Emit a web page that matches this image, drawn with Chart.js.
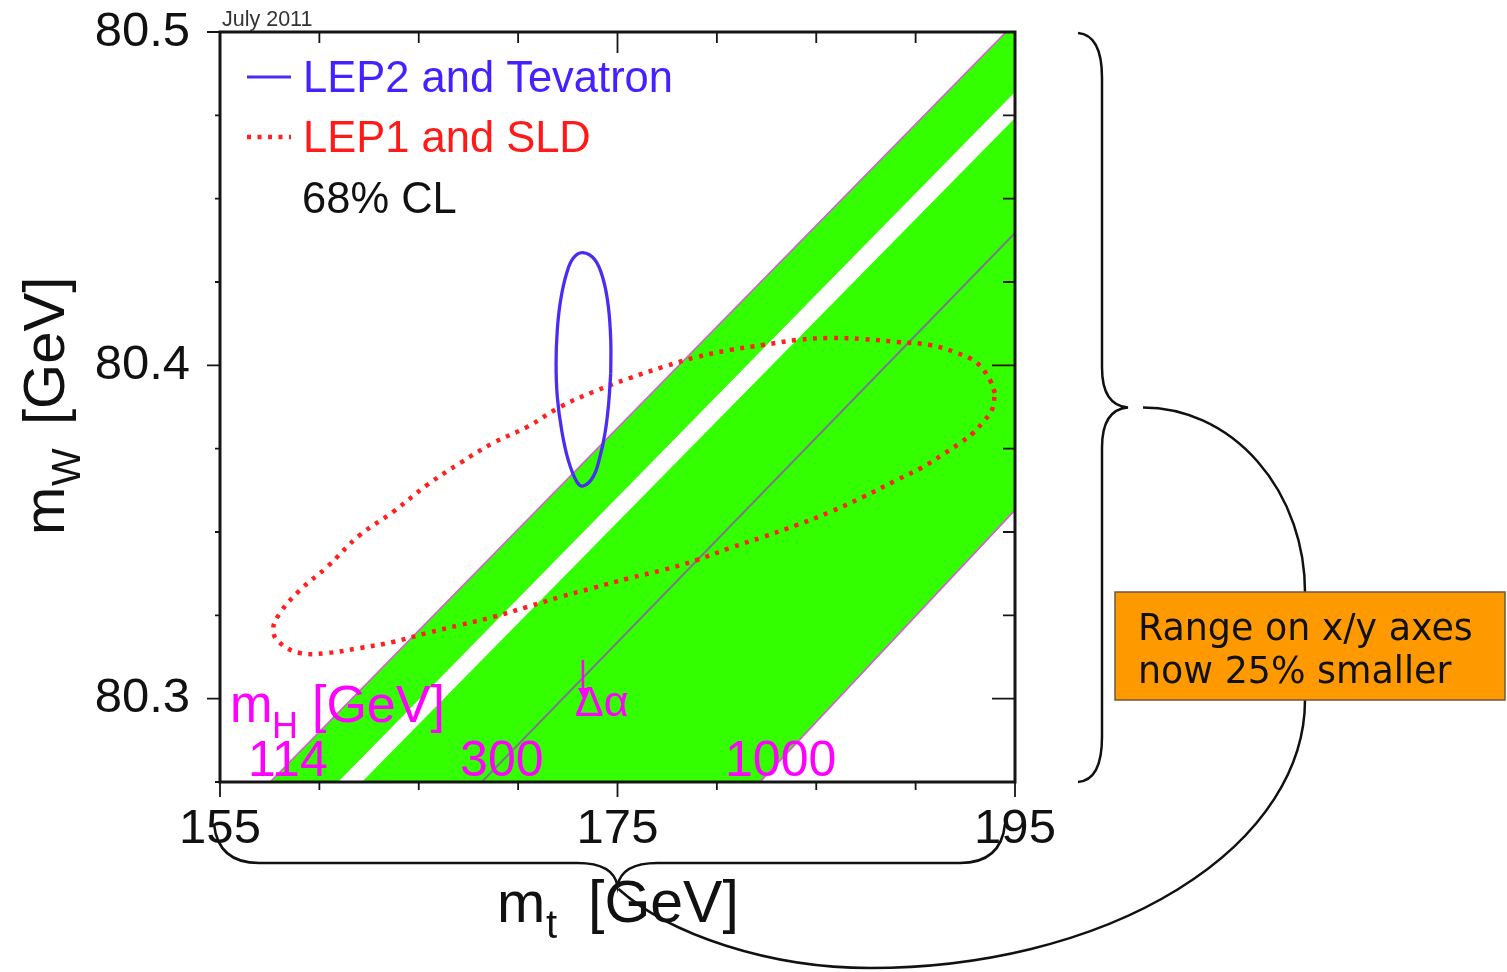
<!DOCTYPE html>
<html>
<head>
<meta charset="utf-8">
<script src="https://cdn.jsdelivr.net/npm/chart.js@4.4.1/dist/chart.umd.min.js"></script>
<style>
  html, body { margin: 0; padding: 0; background: #ffffff; }
  #wrap { width: 1507px; height: 972px; position: relative; }
</style>
</head>
<body>
<div id="wrap"><canvas id="c"></canvas></div>
<script>
// ---- axis ranges and ticks ----
const xRange = [155, 195];
const yRange = [80.275, 80.5];
const xTicks = [155, 160, 165, 170, 175, 180, 185, 190, 195];
const xTickLabels = [155, 175, 195];
const yTicks = [80.275, 80.3, 80.325, 80.35, 80.375, 80.4, 80.425, 80.45, 80.475, 80.5];
const yTickLabels = [80.3, 80.4, 80.5];

// ---- SM prediction band (mH from 114 to 1000 GeV) ----
const bandMt = [157.52, 194.55, 195.0, 195.0, 182.17];
const bandMw = [80.275, 80.5, 80.5, 80.3566, 80.275];

// ---- excluded mH strip inside the band ----
const stripMt = [160.94, 195.0, 195.0, 162.14];
const stripMw = [80.275, 80.482, 80.4742, 80.275];

// ---- band edges ----
const upperEdgeMt = [157.52, 194.55];
const upperEdgeMw = [80.275, 80.5];
const lowerEdgeMt = [182.17, 195.0];
const lowerEdgeMw = [80.275, 80.3566];

// ---- delta-alpha reference line ----
const alphaMt = [168.17, 195.0];
const alphaMw = [80.275, 80.4397];

// ---- LEP2 and Tevatron 68% CL contour ----
const lep2Mt = [174.66, 174.54, 174.37, 174.12, 173.78, 173.28, 172.95, 172.52, 172.19, 171.97, 171.91,
                171.97, 172.14, 172.44, 172.77, 173.25, 173.87, 174.29, 174.54, 174.66, 174.66];
const lep2Mw = [80.3976, 80.3876, 80.3796, 80.3726, 80.3666, 80.3638, 80.3651, 80.3716, 80.3806, 80.3906, 80.4006,
                80.4106, 80.4196, 80.4276, 80.4321, 80.4338, 80.4316, 80.4256, 80.4176, 80.4076, 80.3976];

// ---- LEP1 and SLD 68% CL contour ----
const lep1Mt = [193.99, 193.74, 193.09, 192.08, 190.72, 189.06, 187.35, 185.69, 184.03, 182.32, 180.66, 179.00,
                177.29, 175.63, 173.77, 172.11, 170.45, 168.74, 167.08, 165.42, 163.70, 162.04, 160.38, 159.03,
                158.02, 157.67, 158.02, 159.03, 160.38, 162.04, 163.70, 165.42, 167.08, 168.74, 170.45, 172.11,
                173.77, 175.63, 177.29, 179.00, 180.66, 182.32, 184.03, 185.69, 187.35, 189.06, 190.37, 191.33,
                192.23, 192.89, 193.39, 193.84, 193.99];
const lep1Mw = [80.3917, 80.3956, 80.4007, 80.4037, 80.4061, 80.4070, 80.4079, 80.4082, 80.4076, 80.4061, 80.4046, 80.4025,
                80.3995, 80.3962, 80.3920, 80.3875, 80.3815, 80.3767, 80.3707, 80.3641, 80.3560, 80.3491, 80.3395, 80.3326,
                80.3257, 80.3206, 80.3167, 80.3137, 80.3137, 80.3152, 80.3170, 80.3197, 80.3221, 80.3245, 80.3275, 80.3305,
                80.3332, 80.3362, 80.3386, 80.3416, 80.3452, 80.3485, 80.3521, 80.3560, 80.3605, 80.3656, 80.3695, 80.3731,
                80.3767, 80.3797, 80.3830, 80.3866, 80.3917];

// ---- mH labels along the bottom of the band ----
const mhLabels = ['114', '300', '1000'];
const mhLabelMt = [156.41, 167.08, 180.41];

const pts = (xs, ys) => xs.map((v, i) => ({ x: v, y: ys[i] }));
const isIn = (list, v) => list.some(t => Math.abs(t - v) < 1e-6);

const SANS = '"Liberation Sans", Arial, Helvetica, sans-serif';
const GREEN = '#33ff00';
const MAGENTA = '#ff00ff';
const BLUE = '#4a2cf2';
const RED = '#ff2020';
const INK = '#151515';

// frame with ticks on all four sides
const framePlugin = {
  id: 'frame',
  afterDatasetsDraw(chart) {
    const { ctx, chartArea: a, scales: { x, y } } = chart;
    ctx.save();
    ctx.strokeStyle = INK;
    ctx.lineWidth = 1.8;
    ctx.beginPath();
    xTicks.forEach(v => {
      const px = x.getPixelForValue(v);
      const major = isIn(xTickLabels, v);
      ctx.moveTo(px, a.bottom); ctx.lineTo(px, a.bottom + (major ? 15 : 8));
      ctx.moveTo(px, a.top); ctx.lineTo(px, a.top + (major ? 21 : 11));
    });
    yTicks.forEach(v => {
      const py = y.getPixelForValue(v);
      const major = isIn(yTickLabels, v);
      ctx.moveTo(a.left, py); ctx.lineTo(a.left - (major ? 13 : 5), py);
      ctx.moveTo(a.right, py); ctx.lineTo(a.right - (major ? 23 : 12), py);
    });
    ctx.stroke();
    ctx.lineWidth = 3;
    ctx.strokeRect(a.left, a.top, a.right - a.left, a.bottom - a.top);
    ctx.restore();
  }
};

// titles, legend, labels and the explanatory braces
const decorPlugin = {
  id: 'decor',
  afterDraw(chart) {
    const { ctx, chartArea: a, scales: { x, y } } = chart;
    ctx.save();
    ctx.textAlign = 'left';
    ctx.textBaseline = 'alphabetic';

    // date stamp
    ctx.fillStyle = '#333';
    ctx.font = '21.5px ' + SANS;
    ctx.fillText('July 2011', a.left + 2, a.top - 6);

    // legend
    ctx.lineWidth = 3;
    ctx.strokeStyle = BLUE;
    ctx.beginPath(); ctx.moveTo(a.left + 27, 77); ctx.lineTo(a.left + 71, 77); ctx.stroke();
    ctx.strokeStyle = RED;
    ctx.lineWidth = 4.5;
    ctx.setLineDash([4, 6.5]);
    ctx.beginPath(); ctx.moveTo(a.left + 27, 137); ctx.lineTo(a.left + 71, 137); ctx.stroke();
    ctx.setLineDash([]);
    ctx.font = '43.5px ' + SANS;
    ctx.fillStyle = '#4422ff';
    ctx.fillText('LEP2 and Tevatron', a.left + 83, 92);
    ctx.fillStyle = '#ff1a1a';
    ctx.fillText('LEP1 and SLD', a.left + 83, 152);
    ctx.fillStyle = '#111';
    ctx.fillText('68% CL', a.left + 82, 213);

    // mH annotation
    ctx.fillStyle = MAGENTA;
    const mhX = x.getPixelForValue(155.5), mhY = y.getPixelForValue(80.293);
    ctx.font = '51px ' + SANS;
    ctx.fillText('m', mhX, mhY);
    ctx.font = '36px ' + SANS;
    ctx.fillText('H', mhX + 42, mhY + 16);
    ctx.font = '52px ' + SANS;
    ctx.fillText('[GeV]', mhX + 82, mhY);
    ctx.font = '50px ' + SANS;
    const labY = y.getPixelForValue(80.2768);
    mhLabels.forEach((t, i) => ctx.fillText(t, x.getPixelForValue(mhLabelMt[i]), labY));

    // delta-alpha arrow
    const ax = x.getPixelForValue(173.26);
    const ay0 = y.getPixelForValue(80.3116), ay1 = y.getPixelForValue(80.2996);
    ctx.strokeStyle = MAGENTA;
    ctx.lineWidth = 2.5;
    ctx.beginPath(); ctx.moveTo(ax, ay0); ctx.lineTo(ax, ay1 - 8); ctx.stroke();
    ctx.beginPath(); ctx.moveTo(ax - 5, ay1 - 12); ctx.lineTo(ax + 5, ay1 - 12); ctx.lineTo(ax + 1, ay1); ctx.closePath(); ctx.fill();
    ctx.font = '43px ' + SANS;
    ctx.fillText('\u0394\u03b1', x.getPixelForValue(172.86), y.getPixelForValue(80.2948));

    // axis titles
    ctx.fillStyle = '#111';
    ctx.font = '58px ' + SANS;
    const tx = 497, tyb = 922;
    ctx.fillText('m', tx, tyb);
    ctx.font = '40px ' + SANS;
    ctx.fillText('t', tx + 49, tyb + 16);
    ctx.font = '59px ' + SANS;
    ctx.fillText('[GeV]', tx + 91, tyb);

    ctx.save();
    ctx.translate(64, 535);
    ctx.rotate(-Math.PI / 2);
    ctx.font = '58px ' + SANS;
    ctx.fillText('m', 0, 0);
    ctx.font = '40px ' + SANS;
    ctx.fillText('W', 49, 16);
    ctx.font = '58px ' + SANS;
    ctx.fillText('[GeV]', 110, 0);
    ctx.restore();

    // right brace spanning the y range
    ctx.strokeStyle = '#111';
    ctx.lineWidth = 2.5;
    const bx = a.right + 63, mx = a.right + 87, tipX = a.right + 113;
    const top = a.top + 1, bot = a.bottom, mid = (top + bot) / 2;
    ctx.beginPath();
    ctx.moveTo(bx, top);
    ctx.quadraticCurveTo(mx, top + 2, mx, top + 45);
    ctx.lineTo(mx, mid - 40);
    ctx.quadraticCurveTo(mx, mid - 2, tipX, mid);
    ctx.quadraticCurveTo(mx, mid + 2, mx, mid + 40);
    ctx.lineTo(mx, bot - 45);
    ctx.quadraticCurveTo(mx, bot - 2, bx, bot);
    ctx.stroke();

    // bottom brace spanning the x range
    const L = x.getPixelForValue(155) - 6, R = x.getPixelForValue(195) - 10;
    const C = (x.getPixelForValue(155) + x.getPixelForValue(195)) / 2;
    const yEnd = 824, yh = 863, yTip = 886;
    ctx.beginPath();
    ctx.moveTo(L, yEnd);
    ctx.quadraticCurveTo(L + 4, yh, L + 45, yh);
    ctx.lineTo(C - 40, yh);
    ctx.quadraticCurveTo(C - 4, yh, C, yTip);
    ctx.quadraticCurveTo(C + 4, yh, C + 40, yh);
    ctx.lineTo(R - 45, yh);
    ctx.quadraticCurveTo(R - 4, yh, R, yEnd);
    ctx.stroke();

    // connectors joining both braces to the note
    ctx.beginPath();
    ctx.ellipse(tipX + 15, 592, 162, 592 - mid, 0, -Math.PI / 2, 0);
    ctx.stroke();
    ctx.beginPath();
    ctx.ellipse(870, 700, 435, 268, 0, 0, Math.PI / 2);
    ctx.bezierCurveTo(770, 968, 670, 935, C + 1, yTip + 3);
    ctx.stroke();

    // note box
    ctx.fillStyle = '#ff9900';
    ctx.fillRect(1115, 592, 390, 108);
    ctx.strokeStyle = '#6b5a3a';
    ctx.lineWidth = 1.5;
    ctx.strokeRect(1115, 592, 390, 108);
    ctx.fillStyle = '#111';
    let fs = 34;
    ctx.font = fs + 'px "DejaVu Sans", sans-serif';
    const w = ctx.measureText('Range on x/y axes').width;
    fs = fs * 335 / w;
    ctx.font = fs.toFixed(1) + 'px "DejaVu Sans", sans-serif';
    ctx.fillText('Range on x/y axes', 1138, 640);
    ctx.fillText('now 25% smaller', 1138, 683);

    ctx.restore();
  }
};

new Chart(document.getElementById('c'), {
  type: 'line',
  data: {
    datasets: [
      { label: 'LEP2 and Tevatron', data: pts(lep2Mt, lep2Mw), borderColor: BLUE, borderWidth: 3.3,
        tension: 0.4, fill: false, order: 1 },
      { label: 'LEP1 and SLD', data: pts(lep1Mt, lep1Mw), borderColor: RED, borderWidth: 4.5,
        borderDash: [4, 6.5], tension: 0.4, fill: false, order: 2 },
      { label: 'mH = 114 GeV', data: pts(upperEdgeMt, upperEdgeMw), borderColor: '#d75ad7', borderWidth: 1.6,
        fill: false, order: 6 },
      { label: 'mH = 1000 GeV', data: pts(lowerEdgeMt, lowerEdgeMw), borderColor: '#d75ad7', borderWidth: 1.6,
        fill: false, order: 6 },
      { label: 'delta alpha', data: pts(alphaMt, alphaMw), borderColor: '#7a7a8a', borderWidth: 2,
        fill: false, order: 7 },
      { label: 'excluded', data: pts(stripMt, stripMw), borderColor: 'rgba(0,0,0,0)', borderWidth: 0,
        backgroundColor: '#ffffff', fill: 'shape', order: 8 },
      { label: 'SM', data: pts(bandMt, bandMw), borderColor: 'rgba(0,0,0,0)', borderWidth: 0,
        backgroundColor: GREEN, fill: 'shape', order: 9 }
    ]
  },
  options: {
    responsive: true,
    maintainAspectRatio: false,
    animation: false,
    events: [],
    layout: { padding: { top: 32, right: 492, bottom: 0, left: 0 } },
    elements: { point: { radius: 0, hoverRadius: 0 } },
    plugins: { legend: { display: false }, tooltip: { enabled: false }, title: { display: false } },
    scales: {
      x: {
        type: 'linear', min: xRange[0], max: xRange[1],
        afterBuildTicks: s => { s.ticks = xTicks.map(v => ({ value: v })); },
        afterFit: s => { s.height = 190; s.paddingLeft = 0; s.paddingRight = 0; },
        grid: { display: false }, border: { display: false },
        ticks: { autoSkip: false, maxRotation: 0, padding: 10, color: '#111',
                 font: { family: SANS, size: 49 },
                 callback: v => isIn(xTickLabels, v) ? String(v) : '' }
      },
      y: {
        type: 'linear', min: yRange[0], max: yRange[1],
        afterBuildTicks: s => { s.ticks = yTicks.map(v => ({ value: v })); },
        afterFit: s => { s.width = 220; s.paddingTop = 0; s.paddingBottom = 0; },
        grid: { display: false }, border: { display: false },
        ticks: { autoSkip: false, padding: 22, color: '#111',
                 font: { family: SANS, size: 49 },
                 callback: v => isIn(yTickLabels, v) ? v.toFixed(1) : '' }
      }
    }
  },
  plugins: [framePlugin, decorPlugin]
});
</script>
</body>
</html>
